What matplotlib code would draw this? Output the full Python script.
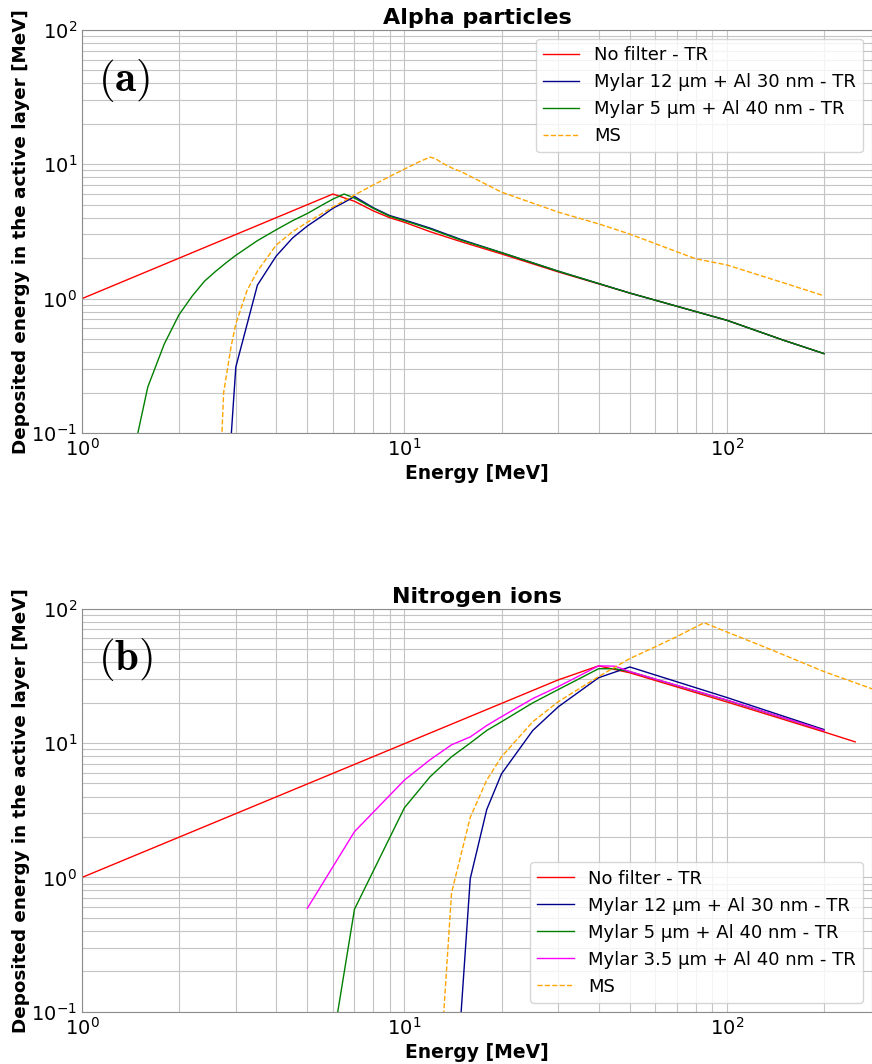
import matplotlib
matplotlib.use('Agg')
import matplotlib.pyplot as plt

# Alpha particles
alpha_nofilter_E = [1, 6, 7, 8, 9, 10, 12, 15, 20, 30, 50, 100, 150, 200]
alpha_nofilter_D = [1.0, 6.0, 5.3, 4.5, 4.0, 3.7, 3.15, 2.65, 2.15, 1.58, 1.1, 0.69, 0.49, 0.39]

alpha_my12_E = [2.85, 3, 3.5, 4, 4.5, 5, 5.5, 6, 6.5, 7, 8, 9, 10, 12, 15, 20, 30, 50, 100, 150, 200]
alpha_my12_D = [0.05, 0.31, 1.26, 2.07, 2.83, 3.47, 4.05, 4.7, 5.2, 5.75, 4.75, 4.15, 3.85, 3.35, 2.75, 2.2,
                1.6, 1.1, 0.69, 0.49, 0.39]

alpha_my5_E = [1.4, 1.6, 1.8, 2, 2.2, 2.4, 2.6, 2.8, 3, 3.5, 4, 4.5, 5, 5.5, 6, 6.5, 7, 8, 9, 10, 12, 15, 20,
               30, 50, 100, 150, 200]
alpha_my5_D = [0.05, 0.22, 0.46, 0.76, 1.05, 1.35, 1.6, 1.85, 2.1, 2.7, 3.25, 3.8, 4.3, 4.9, 5.5, 6.0, 5.6,
               4.7, 4.1, 3.8, 3.3, 2.72, 2.2, 1.6, 1.1, 0.69, 0.49, 0.39]

alpha_ms_E = [2.7, 2.75, 2.9, 3, 3.25, 3.5, 4, 4.5, 5, 6, 7, 8, 9, 10, 11, 12, 12.5, 13, 14, 15, 20, 30, 40,
              50, 80, 100, 150, 200]
alpha_ms_D = [0.07, 0.2, 0.44, 0.65, 1.15, 1.6, 2.5, 3.15, 3.7, 4.8, 5.9, 7.0, 8.1, 9.2, 10.3, 11.3, 11.0,
              10.3, 9.4, 8.8, 6.2, 4.4, 3.6, 3.02, 1.98, 1.78, 1.31, 1.05]

# Nitrogen ions
n_nofilter_E = [1, 30, 40, 50, 100, 200, 250]
n_nofilter_D = [1.0, 29.5, 37.5, 33.3, 20.2, 12.1, 10.2]

n_my12_E = [14.7, 16, 18, 20, 25, 30, 40, 50, 100, 200]
n_my12_D = [0.05, 0.98, 3.2, 5.9, 12.4, 18.6, 30.6, 36.8, 21.8, 12.6]

n_my5_E = [6, 7, 10, 12, 14, 16, 18, 20, 25, 30, 40, 45, 50, 100, 200]
n_my5_D = [0.06, 0.58, 3.3, 5.6, 7.9, 10.0, 12.4, 14.4, 19.9, 25.0, 35.7, 35.7, 34.0, 20.8, 12.4]

n_my35_E = [5, 7, 10, 12, 14, 16, 18, 20, 25, 30, 40, 45, 50, 100, 200]
n_my35_D = [0.59, 2.19, 5.3, 7.5, 9.7, 11.1, 13.5, 15.7, 21.4, 26.3, 37.5, 37.3, 34.0, 20.9, 12.4]

n_ms_E = [13, 14, 16, 18, 20, 25, 30, 40, 50, 60, 70, 85, 100, 133, 200, 300]
n_ms_D = [0.05, 0.77, 2.8, 5.3, 7.9, 14.4, 20.3, 31.2, 42.5, 52, 62, 78.5, 67, 51, 34, 24]

fig = plt.figure(figsize=(8.72, 10.64), dpi=100)
ax1 = fig.add_axes([0.094, 0.593, 0.906, 0.379])
ax2 = fig.add_axes([0.094, 0.049, 0.906, 0.379])

ax1.plot(alpha_nofilter_E, alpha_nofilter_D, color='red', lw=1, label='No filter - TR')
ax1.plot(alpha_my12_E, alpha_my12_D, color='darkblue', lw=1, label='Mylar 12 µm + Al 30 nm - TR')
ax1.plot(alpha_my5_E, alpha_my5_D, color='green', lw=1, label='Mylar 5 µm + Al 40 nm - TR')
ax1.plot(alpha_ms_E, alpha_ms_D, color='orange', lw=1, ls='--', label='MS')

ax2.plot(n_nofilter_E, n_nofilter_D, color='red', lw=1, label='No filter - TR')
ax2.plot(n_my12_E, n_my12_D, color='darkblue', lw=1, label='Mylar 12 µm + Al 30 nm - TR')
ax2.plot(n_my5_E, n_my5_D, color='green', lw=1, label='Mylar 5 µm + Al 40 nm - TR')
ax2.plot(n_my35_E, n_my35_D, color='magenta', lw=1, label='Mylar 3.5 µm + Al 40 nm - TR')
ax2.plot(n_ms_E, n_ms_D, color='orange', lw=1, ls='--', label='MS')

for ax, title, tag, loc in [(ax1, 'Alpha particles', '(a)', 'upper right'),
                            (ax2, 'Nitrogen ions', '(b)', 'lower right')]:
    ax.set_xscale('log')
    ax.set_yscale('log')
    ax.set_xlim(1, 10 ** 2.45)
    ax.set_ylim(0.1, 100)
    ax.grid(True, which='both', color='#c4c4c4', lw=0.8)
    ax.tick_params(which='both', length=0, labelsize=14)
    for sp in ax.spines.values():
        sp.set_color('#8c8c8c')
    ax.set_title(title, fontsize=16, fontweight='bold', pad=4)
    ax.set_xlabel('Energy [MeV]', fontsize=13.5, fontweight='bold', labelpad=3)
    ax.set_ylabel('Deposited energy in the active layer [MeV]', fontsize=13.2, fontweight='bold',
                  labelpad=1)
    ax.text(0.02, 0.875, r'$\mathbf{' + tag + '}$', transform=ax.transAxes, fontsize=31,
            math_fontfamily='cm', va='center')
    ax.legend(loc=loc, fontsize=13)

fig.savefig('out.png', dpi=100)
